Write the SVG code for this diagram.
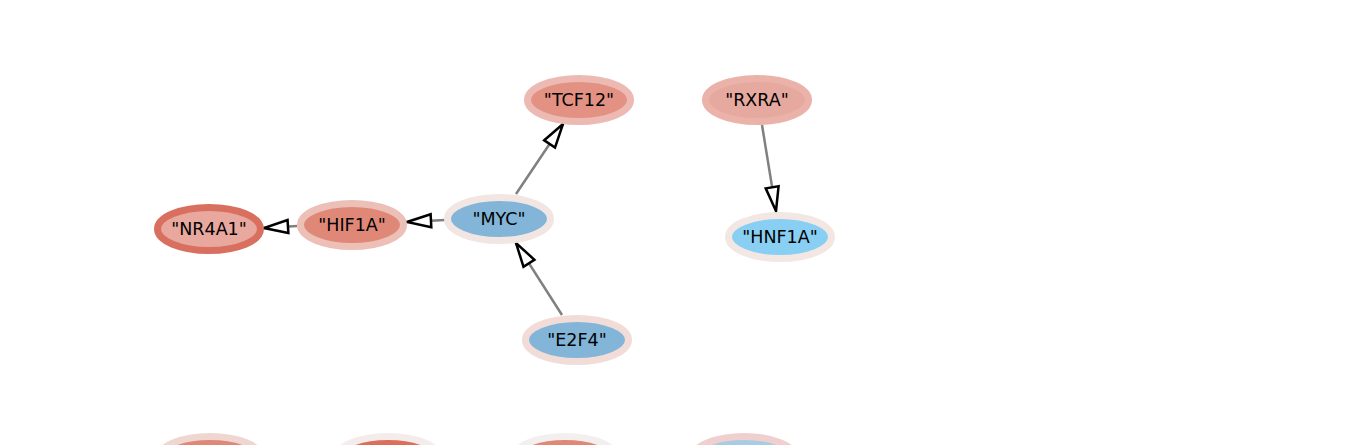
<svg xmlns="http://www.w3.org/2000/svg" width="1369" height="445" viewBox="0 0 1369 445">
<style>
.n ellipse{stroke-width:7}
.n text{font-family:"DejaVu Sans",sans-serif;font-size:17.5px;fill:#000;text-anchor:middle;dominant-baseline:central}
.e line{stroke:#808080;stroke-width:2.5;fill:none;marker-end:url(#ah)}
</style>
<defs>
<marker id="ah" markerUnits="userSpaceOnUse" viewBox="-2 -9 28 18" refX="24" refY="0" markerWidth="28" markerHeight="18" orient="auto">
<path d="M0,-6.5 L24,0 L0,6.5 Z" fill="#fff" stroke="#000" stroke-width="2.5" stroke-linejoin="miter"/>
</marker>
</defs>
<rect width="1369" height="445" fill="#fff"/>
<g class="e" id="edges">
<line x1="445" y1="220" x2="407" y2="222"/>
<line x1="297" y1="226" x2="264" y2="228"/>
<line x1="516" y1="194" x2="563" y2="124"/>
<line x1="562" y1="315" x2="516" y2="243"/>
<line x1="762" y1="125" x2="776" y2="211"/>
</g>
<g class="n" id="NR4A1"><ellipse cx="209" cy="229" rx="51.5" ry="21.5" fill="#e8a89e" stroke="#d9705f"/><text x="209" y="229">"NR4A1"</text></g>
<g class="n" id="HIF1A"><ellipse cx="352" cy="225" rx="51.5" ry="21.5" fill="#e08878" stroke="#ecc0b7"/><text x="352" y="225">"HIF1A"</text></g>
<g class="n" id="MYC"><ellipse cx="499" cy="219" rx="51.5" ry="21.5" fill="#82b5d8" stroke="#f2e6e3"/><text x="499" y="219">"MYC"</text></g>
<g class="n" id="TCF12"><ellipse cx="579" cy="100" rx="51.5" ry="21.5" fill="#e39183" stroke="#ecbab2"/><text x="579" y="100">"TCF12"</text></g>
<g class="n" id="RXRA"><ellipse cx="757" cy="100" rx="51.5" ry="21.5" fill="#e6a99f" stroke="#ebb2a9"/><text x="757" y="100">"RXRA"</text></g>
<g class="n" id="HNF1A"><ellipse cx="780" cy="237" rx="51.5" ry="21.5" fill="#88cff3" stroke="#f3e7e4"/><text x="780" y="237">"HNF1A"</text></g>
<g class="n" id="E2F4"><ellipse cx="577" cy="340" rx="51.5" ry="21.5" fill="#82b5d8" stroke="#f2dcd8"/><text x="577" y="340">"E2F4"</text></g>
<g class="n" id="B1"><ellipse cx="210" cy="458" rx="51.5" ry="21.5" fill="#e08878" stroke="#f0d6d0"/></g>
<g class="n" id="B2"><ellipse cx="388" cy="458" rx="51.5" ry="21.5" fill="#dc6f5c" stroke="#f3ecea"/></g>
<g class="n" id="B3"><ellipse cx="565" cy="458" rx="51.5" ry="21.5" fill="#e08878" stroke="#f3efee"/></g>
<g class="n" id="B4"><ellipse cx="744" cy="458" rx="51.5" ry="21.5" fill="#a8cce4" stroke="#f0d0cf"/></g>
</svg>
